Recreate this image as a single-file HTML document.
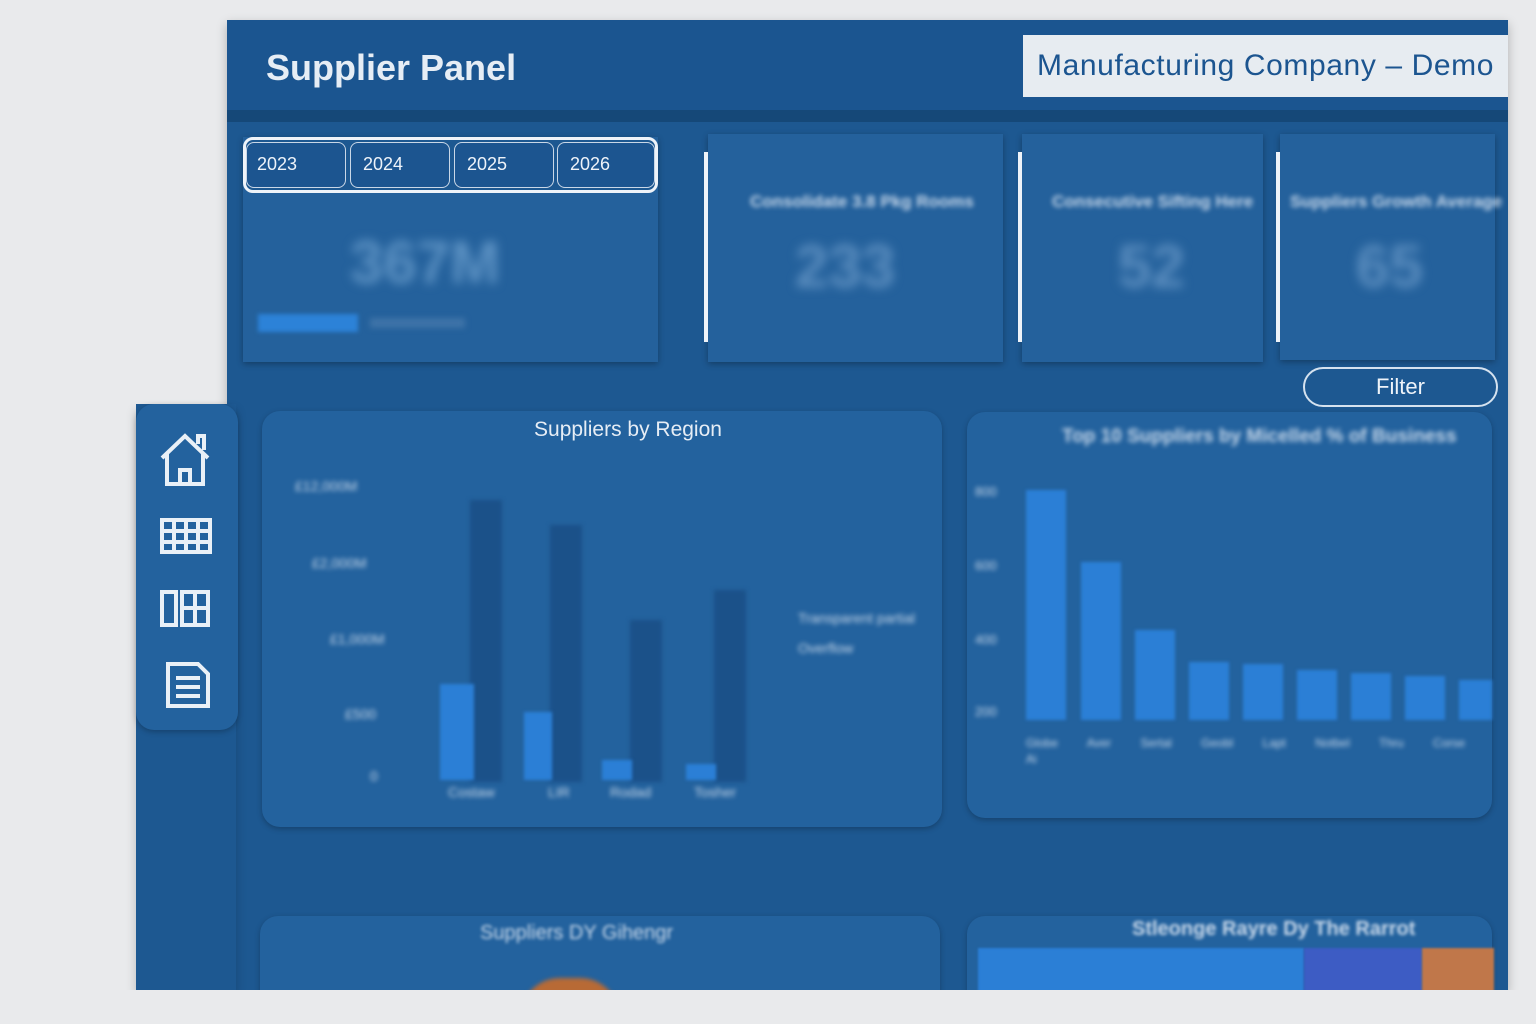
<!DOCTYPE html>
<html><head><style>
*{margin:0;padding:0;box-sizing:border-box}
body{width:1536px;height:1024px;background:#e9eaec;position:relative;overflow:hidden;font-family:"Liberation Sans",sans-serif}
.abs{position:absolute}
.main{left:227px;top:20px;width:1281px;height:970px;background:#1d5891;box-shadow:0 4px 10px rgba(0,0,0,.25)}
.ext{left:136px;top:404px;width:100px;height:586px;background:#1d5891;box-shadow:0 6px 10px rgba(0,0,0,.2)}
.card{background:#23629e;border-radius:18px;box-shadow:0 2px 6px rgba(0,0,0,.25)}
.bl{filter:blur(2.5px);color:#c8d8ea}
.bar{position:absolute;background:#2b7fd6;filter:blur(1.5px)}
.dbar{position:absolute;background:#1b5189;filter:blur(2px)}
</style></head><body>
<div class="abs main"></div>
<div class="abs ext"></div>
<div class="abs" style="left:227px;top:20px;width:1281px;height:92px;background:#1b5590"></div>
<div class="abs" style="left:227px;top:110px;width:1281px;height:12px;background:#154878"></div>
<div class="abs" style="left:266px;top:47px;font-size:36px;font-weight:bold;color:#e6edf5">Supplier Panel</div>
<div class="abs" style="left:1023px;top:35px;width:485px;height:62px;background:#e7ecf1;color:#1c5590;font-size:30px;letter-spacing:0.6px;padding:14px 0 0 14px;white-space:nowrap">Manufacturing Company – Demo</div>

<div class="abs" style="left:243px;top:137px;width:415px;height:225px;background:#24619c;box-shadow:0 2px 6px rgba(0,0,0,.3)"></div>
<div class="abs" style="left:243px;top:137px;width:415px;height:56px;border:3px solid #eef3f9;border-radius:10px;background:#1d5891"></div>
<div class="abs" style="left:246px;top:142px;width:100px;height:46px;border:1.5px solid #c9d7e7;border-radius:8px;color:#eef3f9;font-size:18px;padding:11px 10px;background:#1c5590">2023</div>
<div class="abs" style="left:350px;top:142px;width:100px;height:46px;border:1.5px solid #c9d7e7;border-radius:8px;color:#eef3f9;font-size:18px;padding:11px 12px;background:#1c5590">2024</div>
<div class="abs" style="left:454px;top:142px;width:100px;height:46px;border:1.5px solid #c9d7e7;border-radius:8px;color:#eef3f9;font-size:18px;padding:11px 12px;background:#1c5590">2025</div>
<div class="abs" style="left:557px;top:142px;width:98px;height:46px;border:1.5px solid #c9d7e7;border-radius:8px;color:#eef3f9;font-size:18px;padding:11px 12px;background:#1c5590">2026</div>
<div class="abs bl" style="left:350px;top:228px;font-size:60px;font-weight:bold;color:#5e93c4;filter:blur(5px)">367M</div>
<div class="abs" style="left:258px;top:314px;width:100px;height:18px;background:#2c82d8;filter:blur(2px)"></div>
<div class="abs" style="left:370px;top:318px;width:95px;height:10px;background:#3e73a8;filter:blur(3px)"></div>

<div class="abs" style="left:708px;top:134px;width:295px;height:228px;background:#24619c;box-shadow:0 2px 6px rgba(0,0,0,.3)"></div>
<div class="abs" style="left:704px;top:152px;width:4px;height:190px;background:#eef3f9"></div>
<div class="abs" style="left:1022px;top:134px;width:241px;height:228px;background:#24619c;box-shadow:0 2px 6px rgba(0,0,0,.3)"></div>
<div class="abs" style="left:1018px;top:152px;width:4px;height:190px;background:#eef3f9"></div>
<div class="abs" style="left:1280px;top:134px;width:215px;height:226px;background:#24619c;box-shadow:0 2px 6px rgba(0,0,0,.3)"></div>
<div class="abs" style="left:1276px;top:152px;width:4px;height:190px;background:#eef3f9"></div>
<div class="abs bl" style="left:750px;top:192px;font-size:17px;font-weight:bold">Consolidate 3.8 Pkg Rooms</div>
<div class="abs bl" style="left:1052px;top:192px;font-size:17px;font-weight:bold">Consecutive Sifting Here</div>
<div class="abs bl" style="left:1290px;top:192px;font-size:17px;font-weight:bold">Suppliers Growth Average</div>
<div class="abs" style="left:795px;top:232px;font-size:60px;font-weight:bold;color:#5d8fc0;filter:blur(5px)">233</div>
<div class="abs" style="left:1118px;top:232px;font-size:60px;font-weight:bold;color:#5d8fc0;filter:blur(5px)">52</div>
<div class="abs" style="left:1356px;top:232px;font-size:60px;font-weight:bold;color:#5d8fc0;filter:blur(5px)">65</div>

<div class="abs" style="left:1303px;top:367px;width:195px;height:40px;border:2px solid #d5e2ef;border-radius:20px;color:#eef3f9;font-size:22px;text-align:center;line-height:36px;background:#1d5891">Filter</div>

<div class="abs card" style="left:136px;top:404px;width:102px;height:326px;background:#23629e"></div>
<svg class="abs" style="left:156px;top:430px" width="60" height="290" fill="none" stroke="#e9f0f7" stroke-width="4">
 <path d="M6 28 L29 6 L52 28 M11 24 V54 H47 V24 M24 54 V40 H34 V54 M42 14 V6 H48 V20"/>
 <rect x="6" y="90" width="48" height="32"/><path d="M6 101H54M6 112H54M18 90V122M30 90V122M42 90V122"/>
 <rect x="6" y="162" width="14" height="33"/><path d="M26 162H52V195H26ZM26 178H52M39 162V195"/>
 <path d="M12 234H42L52 244V276H12Z M20 248H44M20 257H44M20 266H44"/>
</svg>

<div class="abs card" style="left:262px;top:411px;width:680px;height:416px"></div>
<div class="abs" style="left:262px;top:418px;text-align:center;font-size:21px;color:#e6edf5;width:732px">Suppliers by Region</div>
<div class="abs bl" style="left:295px;top:478px;font-size:14px">£12,000M</div>
<div class="abs bl" style="left:312px;top:555px;font-size:14px">£2,000M</div>
<div class="abs bl" style="left:330px;top:631px;font-size:14px">£1,000M</div>
<div class="abs bl" style="left:345px;top:706px;font-size:14px">£500</div>
<div class="abs bl" style="left:370px;top:768px;font-size:14px">0</div>
<div class="dbar" style="left:470px;top:500px;width:32px;height:282px"></div>
<div class="dbar" style="left:550px;top:525px;width:32px;height:257px"></div>
<div class="dbar" style="left:630px;top:620px;width:32px;height:162px"></div>
<div class="dbar" style="left:714px;top:590px;width:32px;height:192px"></div>
<div class="bar" style="left:440px;top:684px;width:34px;height:96px"></div>
<div class="bar" style="left:524px;top:712px;width:28px;height:68px"></div>
<div class="bar" style="left:602px;top:760px;width:30px;height:20px"></div>
<div class="bar" style="left:686px;top:764px;width:30px;height:16px"></div>
<div class="abs bl" style="left:448px;top:784px;font-size:14px">Costaw</div>
<div class="abs bl" style="left:548px;top:784px;font-size:14px">LIR</div>
<div class="abs bl" style="left:610px;top:784px;font-size:14px">Rodad</div>
<div class="abs bl" style="left:694px;top:784px;font-size:14px">Tosher</div>
<div class="abs bl" style="left:798px;top:610px;font-size:14px">Transparent partial</div>
<div class="abs bl" style="left:798px;top:640px;font-size:14px">Overflow</div>

<div class="abs card" style="left:967px;top:412px;width:525px;height:406px"></div>
<div class="abs bl" style="left:1062px;top:426px;font-size:19px;font-weight:bold">Top 10 Suppliers by Micelled % of Business</div>
<div class="abs bl" style="left:975px;top:484px;font-size:13px">800</div>
<div class="abs bl" style="left:975px;top:558px;font-size:13px">600</div>
<div class="abs bl" style="left:975px;top:632px;font-size:13px">400</div>
<div class="abs bl" style="left:975px;top:704px;font-size:13px">200</div>
<div class="bar" style="left:1026px;top:490px;width:40px;height:230px"></div>
<div class="bar" style="left:1081px;top:562px;width:40px;height:158px"></div>
<div class="bar" style="left:1135px;top:630px;width:40px;height:90px"></div>
<div class="bar" style="left:1189px;top:662px;width:40px;height:58px"></div>
<div class="bar" style="left:1243px;top:664px;width:40px;height:56px"></div>
<div class="bar" style="left:1297px;top:670px;width:40px;height:50px"></div>
<div class="bar" style="left:1351px;top:673px;width:40px;height:47px"></div>
<div class="bar" style="left:1405px;top:676px;width:40px;height:44px"></div>
<div class="bar" style="left:1459px;top:680px;width:33px;height:40px"></div>
<div class="abs bl" style="left:1026px;top:735px;font-size:12px;line-height:16px;width:470px;word-spacing:26px">Globe Aver Sertal Geobl Lapt Notbel Thru Corse Ai</div>

<div class="abs card" style="left:260px;top:916px;width:680px;height:100px;border-radius:18px 18px 0 0"></div>
<div class="abs bl" style="left:480px;top:922px;font-size:20px;filter:blur(1.5px)">Suppliers DY Gihengr</div>
<div class="abs" style="left:520px;top:978px;width:100px;height:40px;border-radius:50px 50px 0 0;background:#b86a35;filter:blur(2px)"></div>
<div class="abs card" style="left:967px;top:916px;width:525px;height:100px;border-radius:18px 18px 0 0"></div>
<div class="abs bl" style="left:1132px;top:918px;font-size:20px;font-weight:bold;filter:blur(1.5px)">Stleonge Rayre Dy The Rarrot</div>
<div class="abs" style="left:978px;top:948px;width:326px;height:50px;background:#2b7fd6;filter:blur(1px)"></div>
<div class="abs" style="left:1304px;top:948px;width:118px;height:50px;background:#3d5cc4;filter:blur(1px)"></div>
<div class="abs" style="left:1422px;top:948px;width:72px;height:50px;background:#c0774a;filter:blur(1px)"></div>
<div class="abs" style="left:0;top:990px;width:1536px;height:34px;background:#e9eaec"></div>
</body></html>
